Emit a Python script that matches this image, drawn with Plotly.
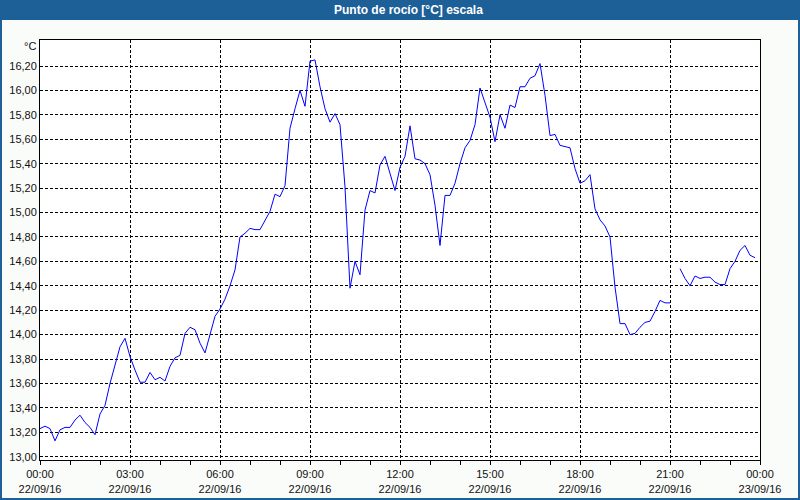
import plotly.graph_objects as go
import pandas as pd

# Dew point readings every 10 minutes on 22/09/2016 (None = missing reading)
start_time = "2016-09-22 00:00"
step = "10min"
dew_point = [
    # 00:00 - 08:00
    13.23, 13.25, 13.23, 13.13, 13.22, 13.24, 13.24, 13.30, 13.34, 13.28,
    13.24, 13.18, 13.35, 13.42, 13.60, 13.75, 13.90, 13.97, 13.82, 13.71,
    13.61, 13.61, 13.69, 13.63, 13.65, 13.62, 13.74, 13.81, 13.83, 14.01,
    14.06, 14.04, 13.93, 13.85, 14.00, 14.15, 14.21, 14.29, 14.40, 14.53,
    14.80, 14.83, 14.87, 14.86, 14.86, 14.94, 15.01, 15.15, 15.13,
    # 08:10 - 16:00
    15.22, 15.69, 15.85, 16.00, 15.87, 16.24, 16.25, 16.03, 15.85, 15.74,
    15.81, 15.72, 15.21, 14.38, 14.60, 14.49, 15.02, 15.18, 15.16, 15.39,
    15.46, 15.33, 15.18, 15.37, 15.46, 15.71, 15.44, 15.43, 15.40, 15.31,
    15.06, 14.73, 15.14, 15.14, 15.24, 15.40, 15.53, 15.59, 15.72, 16.02,
    15.89, 15.78, 15.58, 15.80, 15.69, 15.88, 15.86, 16.03,
    # 16:10 - 21:00
    16.03, 16.10, 16.12, 16.22, 15.96, 15.63, 15.64, 15.55, 15.54, 15.53,
    15.36, 15.24, 15.26, 15.31, 15.03, 14.94, 14.89, 14.80, 14.39, 14.09,
    14.09, 14.00, 14.01, 14.06, 14.10, 14.11, 14.19, 14.28, 14.26, 14.26,
    # 21:10 missing
    None,
    # 21:20 - 23:50
    14.54, 14.46, 14.40, 14.48, 14.46, 14.47, 14.47, 14.43, 14.41, 14.41,
    14.54, 14.60, 14.69, 14.73, 14.65, 14.63,
]
times = pd.date_range(start_time, periods=len(dew_point), freq=step)

x_tick_vals = ["2016-09-22 00:00", "2016-09-22 03:00", "2016-09-22 06:00",
               "2016-09-22 09:00", "2016-09-22 12:00", "2016-09-22 15:00",
               "2016-09-22 18:00", "2016-09-22 21:00", "2016-09-23 00:00"]
x_tick_text = ["00:00<br>22/09/16", "03:00<br>22/09/16", "06:00<br>22/09/16",
               "09:00<br>22/09/16", "12:00<br>22/09/16", "15:00<br>22/09/16",
               "18:00<br>22/09/16", "21:00<br>22/09/16", "00:00<br>23/09/16"]
y_tick_vals = [13.0, 13.2, 13.4, 13.6, 13.8, 14.0, 14.2, 14.4, 14.6, 14.8,
               15.0, 15.2, 15.4, 15.6, 15.8, 16.0, 16.2]
title_text = "Punto de rocío [°C] escala"
unit_text = "°C"

BLUE = "#1d5f97"
FONT = "Liberation Sans"

fig = go.Figure()
fig.add_trace(go.Scatter(
    x=times, y=dew_point, mode="lines",
    line=dict(color="#0000ff", width=1),
    connectgaps=False, hoverinfo="skip", showlegend=False,
))

fig.update_layout(
    width=800, height=500,
    margin=dict(l=40, r=40, t=40, b=40, pad=0, autoexpand=False),
    paper_bgcolor="#fafcfa", plot_bgcolor="#ffffff",
    separators=",.",
    font=dict(family=FONT, size=11, color="#111111"),
    xaxis=dict(
        range=["2016-09-22 00:00", "2016-09-23 00:00"],
        tickvals=x_tick_vals, ticktext=x_tick_text, automargin=False,
        showgrid=True, gridcolor="#000000", gridwidth=1, griddash="3px,2px",
        ticks="outside", ticklen=4, tickcolor="#000000", ticklabelstandoff=0,
        minor=dict(dtick=3600000, ticks="outside", ticklen=4, tickcolor="#000000", showgrid=False),
        showline=True, linecolor="#000000", linewidth=1, mirror=True,
        zeroline=False, tickfont=dict(family=FONT, size=11),
    ),
    yaxis=dict(
        range=[12.973, 16.413], automargin=False,
        tickvals=y_tick_vals, tickformat=".2f",
        showgrid=True, gridcolor="#000000", gridwidth=1, griddash="3px,2px",
        ticks="", showline=True, linecolor="#000000", linewidth=1, mirror=True,
        zeroline=False, tickfont=dict(family=FONT, size=11),
    ),
    shapes=[
        dict(type="rect", xref="paper", yref="paper",
             x0=-40/720, x1=760/720, y0=440/420, y1=460/420,
             fillcolor=BLUE, line=dict(width=0), layer="above"),
        dict(type="rect", xref="paper", yref="paper",
             x0=-39/720, x1=759/720, y0=-39/420, y1=459/420,
             fillcolor="rgba(0,0,0,0)", line=dict(color=BLUE, width=2), layer="above"),
    ],
    annotations=[
        dict(text="<b>" + title_text + "</b>", xref="paper", yref="paper",
             x=369/720, y=450/420, xanchor="center", yanchor="middle",
             showarrow=False, font=dict(family=FONT, size=12, color="#ffffff")),
        dict(text=unit_text, xref="paper", yref="paper",
             x=-10/720, y=414/420, xanchor="center", yanchor="middle",
             showarrow=False, font=dict(family=FONT, size=11, color="#111111")),
    ],
)

fig.write_html("out.html")
